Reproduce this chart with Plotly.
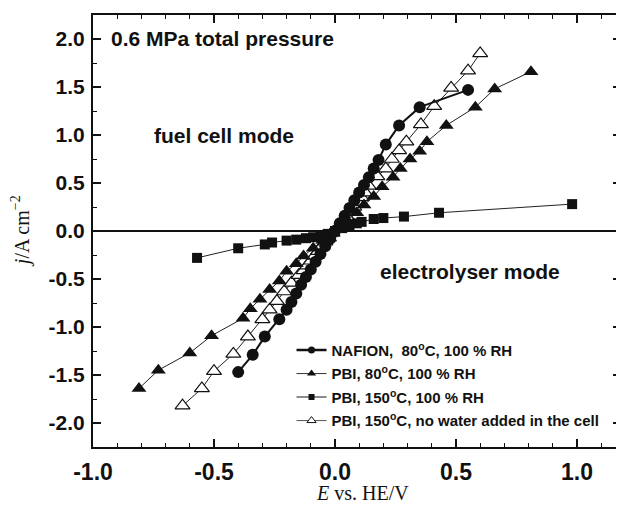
import plotly.graph_objects as go

# ---------------- data ----------------
naf_x = [-0.40, -0.34, -0.29, -0.23, -0.20, -0.18, -0.16, -0.14, -0.12, -0.10, -0.08, -0.06, -0.04, -0.02, 0.0,
         0.02, 0.04, 0.06, 0.08, 0.10, 0.12, 0.14, 0.16, 0.18, 0.21, 0.265, 0.35, 0.55]
naf_y = [-1.47, -1.29, -1.10, -0.92, -0.82, -0.74, -0.65, -0.56, -0.48, -0.40, -0.32, -0.24, -0.16, -0.08, 0.0,
         0.08, 0.16, 0.24, 0.32, 0.40, 0.48, 0.56, 0.65, 0.74, 0.90, 1.10, 1.29, 1.47]

pbi80_x = [-0.81, -0.73, -0.60, -0.51, -0.38, -0.35, -0.31, -0.27, -0.23, -0.20, -0.16, -0.13, -0.09, -0.05, -0.02,
           0.02, 0.05, 0.09, 0.12, 0.16, 0.195, 0.24, 0.27, 0.31, 0.35, 0.38, 0.46, 0.58, 0.66, 0.81]
pbi80_y = [-1.64, -1.45, -1.27, -1.09, -0.91, -0.81, -0.71, -0.61, -0.52, -0.42, -0.34, -0.26, -0.18, -0.10, -0.03,
           0.04, 0.11, 0.19, 0.27, 0.36, 0.46, 0.56, 0.65, 0.75, 0.83, 0.93, 1.10, 1.29, 1.48, 1.66]

pbi150_x = [-0.57, -0.40, -0.29, -0.26, -0.20, -0.16, -0.12, -0.09, -0.06, -0.03, 0.0,
            0.03, 0.06, 0.09, 0.11, 0.16, 0.20, 0.285, 0.43, 0.98]
pbi150_y = [-0.28, -0.18, -0.14, -0.12, -0.10, -0.09, -0.075, -0.065, -0.05, -0.03, 0.0,
            0.03, 0.06, 0.08, 0.095, 0.125, 0.135, 0.15, 0.19, 0.28]

dry_x = [-0.63, -0.55, -0.50, -0.42, -0.36, -0.30, -0.27, -0.24, -0.21, -0.18, -0.15, -0.13, -0.115, -0.10,
         -0.085, -0.07, -0.055, -0.04, -0.025, -0.01,
         0.005, 0.02, 0.035, 0.05, 0.065, 0.08, 0.095, 0.11, 0.125, 0.14, 0.175, 0.21, 0.235, 0.265, 0.295,
         0.355, 0.41, 0.48, 0.55, 0.60]
dry_y = [-1.82, -1.64, -1.46, -1.28, -1.10, -0.92, -0.82, -0.73, -0.63, -0.54, -0.46, -0.41, -0.36, -0.31,
         -0.26, -0.21, -0.16, -0.11, -0.07, -0.02,
         0.02, 0.06, 0.10, 0.15, 0.20, 0.25, 0.30, 0.35, 0.40, 0.47, 0.57, 0.65, 0.75, 0.84, 0.93,
         1.11, 1.30, 1.49, 1.67, 1.85]

legend_names = ["NAFION,  80<sup>o</sup>C, 100 % RH",
                "PBI, 80<sup>o</sup>C, 100 % RH",
                "PBI, 150<sup>o</sup>C, 100 % RH",
                "PBI, 150<sup>o</sup>C, no water added in the cell"]

x_tickvals = [-1.0, -0.5, 0.0, 0.5, 1.0]
x_ticktext = ["-1.0", "-0.5", "0.0", "0.5", "1.0"]
y_tickvals = [-2.0, -1.5, -1.0, -0.5, 0.0, 0.5, 1.0, 1.5, 2.0]
y_ticktext = ["-2.0", "-1.5", "-1.0", "-0.5", "0.0", "0.5", "1.0", "1.5", "2.0"]

# ---------------- figure ----------------
fig = go.Figure()

# data traces (drawn back to front)
fig.add_trace(go.Scatter(x=dry_x, y=dry_y, mode="lines+markers", showlegend=False,
                         line=dict(color="#222", width=1),
                         marker=dict(symbol="triangle-up", size=13, color="white",
                                     line=dict(color="#111", width=1.2))))
fig.add_trace(go.Scatter(x=pbi80_x, y=pbi80_y, mode="lines+markers", showlegend=False,
                         line=dict(color="#222", width=1),
                         marker=dict(symbol="triangle-up", size=13, color="#111")))
fig.add_trace(go.Scatter(x=pbi150_x, y=pbi150_y, mode="lines+markers", showlegend=False,
                         line=dict(color="#222", width=1),
                         marker=dict(symbol="square", size=10, color="#111")))
fig.add_trace(go.Scatter(x=naf_x, y=naf_y, mode="lines+markers", showlegend=False,
                         line=dict(color="#111", width=2),
                         marker=dict(symbol="circle", size=12, color="#111")))

# legend entries
leg_styles = [
    dict(line=dict(color="#111", width=2.5), marker=dict(symbol="circle", size=7, color="#111")),
    dict(line=dict(color="#333", width=1), marker=dict(symbol="triangle-up", size=8, color="#111")),
    dict(line=dict(color="#666", width=1.5), marker=dict(symbol="square", size=6, color="#111")),
    dict(line=dict(color="#555", width=1), marker=dict(symbol="triangle-up", size=8, color="white",
                                                      line=dict(color="#111", width=1))),
]
for i, (nm, st) in enumerate(zip(legend_names, leg_styles)):
    fig.add_trace(go.Scatter(x=[None], y=[None], mode="lines+markers", name=nm,
                             legendgroup="g%d" % i, **st))

# page body has an 8px margin, so the figure is offset by 8px right/down
fig.update_layout(
    width=624, height=506,
    margin=dict(l=85, r=11, t=7, b=67, autoexpand=False),
    paper_bgcolor="white", plot_bgcolor="white",
    font=dict(family="Liberation Sans, Arial, sans-serif", color="#111"),
    showlegend=True,
    legend=dict(x=0.376, y=0.262, xanchor="left", yanchor="top",
                bgcolor="rgba(0,0,0,0)", traceorder="grouped", tracegroupgap=1,
                font=dict(size=15, weight="bold", color="#111"),
                itemwidth=30),
)

axis_common = dict(showline=True, linecolor="#111", linewidth=2, mirror="allticks",
                   ticks="inside", ticklen=8, tickwidth=1.5, tickcolor="#111",
                   showgrid=False, automargin=False)

fig.update_xaxes(range=[-1.0, 1.182], tickvals=x_tickvals, ticktext=x_ticktext,
                 zeroline=False, ticklabelstandoff=3,
                 tickfont=dict(size=23, weight="bold", color="#111",
                               family="Liberation Sans, Arial, sans-serif"),
                 minor=dict(dtick=0.1, ticks="inside", ticklen=4, tickwidth=1.2, tickcolor="#111"),
                 **axis_common)
fig.update_yaxes(range=[-2.25, 2.25], tickvals=y_tickvals, ticktext=y_ticktext,
                 zeroline=True, zerolinecolor="#111", zerolinewidth=2, ticklabelstandoff=2,
                 tickfont=dict(size=21, weight="bold", color="#111",
                               family="Liberation Sans, Arial, sans-serif"),
                 minor=dict(dtick=0.25, ticks="inside", ticklen=4, tickwidth=1.2, tickcolor="#111"),
                 **axis_common)

# text annotations
bold = dict(family="Liberation Sans, Arial, sans-serif", size=21, weight="bold", color="#111")
fig.add_annotation(x=-0.934, y=2.01, xref="x", yref="y", text="0.6 MPa total pressure",
                   showarrow=False, xanchor="left", yanchor="middle", font=bold)
fig.add_annotation(x=-0.46, y=1.0, xref="x", yref="y", text="fuel cell mode",
                   showarrow=False, xanchor="center", yanchor="middle", font=bold)
fig.add_annotation(x=0.56, y=-0.42, xref="x", yref="y", text="electrolyser mode",
                   showarrow=False, xanchor="center", yanchor="middle", font=bold)

serif = dict(family="Liberation Serif, Times New Roman, serif", size=20, color="#111")
fig.add_annotation(x=0.51, y=-0.106, xref="paper", yref="paper", text="<i>E</i> vs. HE/V",
                   showarrow=False, xanchor="center", yanchor="middle", font=serif)
fig.add_annotation(x=-0.138, y=0.50, xref="paper", yref="paper", text="<i>j</i>/A cm<sup>−2</sup>",
                   showarrow=False, xanchor="center", yanchor="middle", textangle=-90, font=serif)

fig.write_html("out.html")
